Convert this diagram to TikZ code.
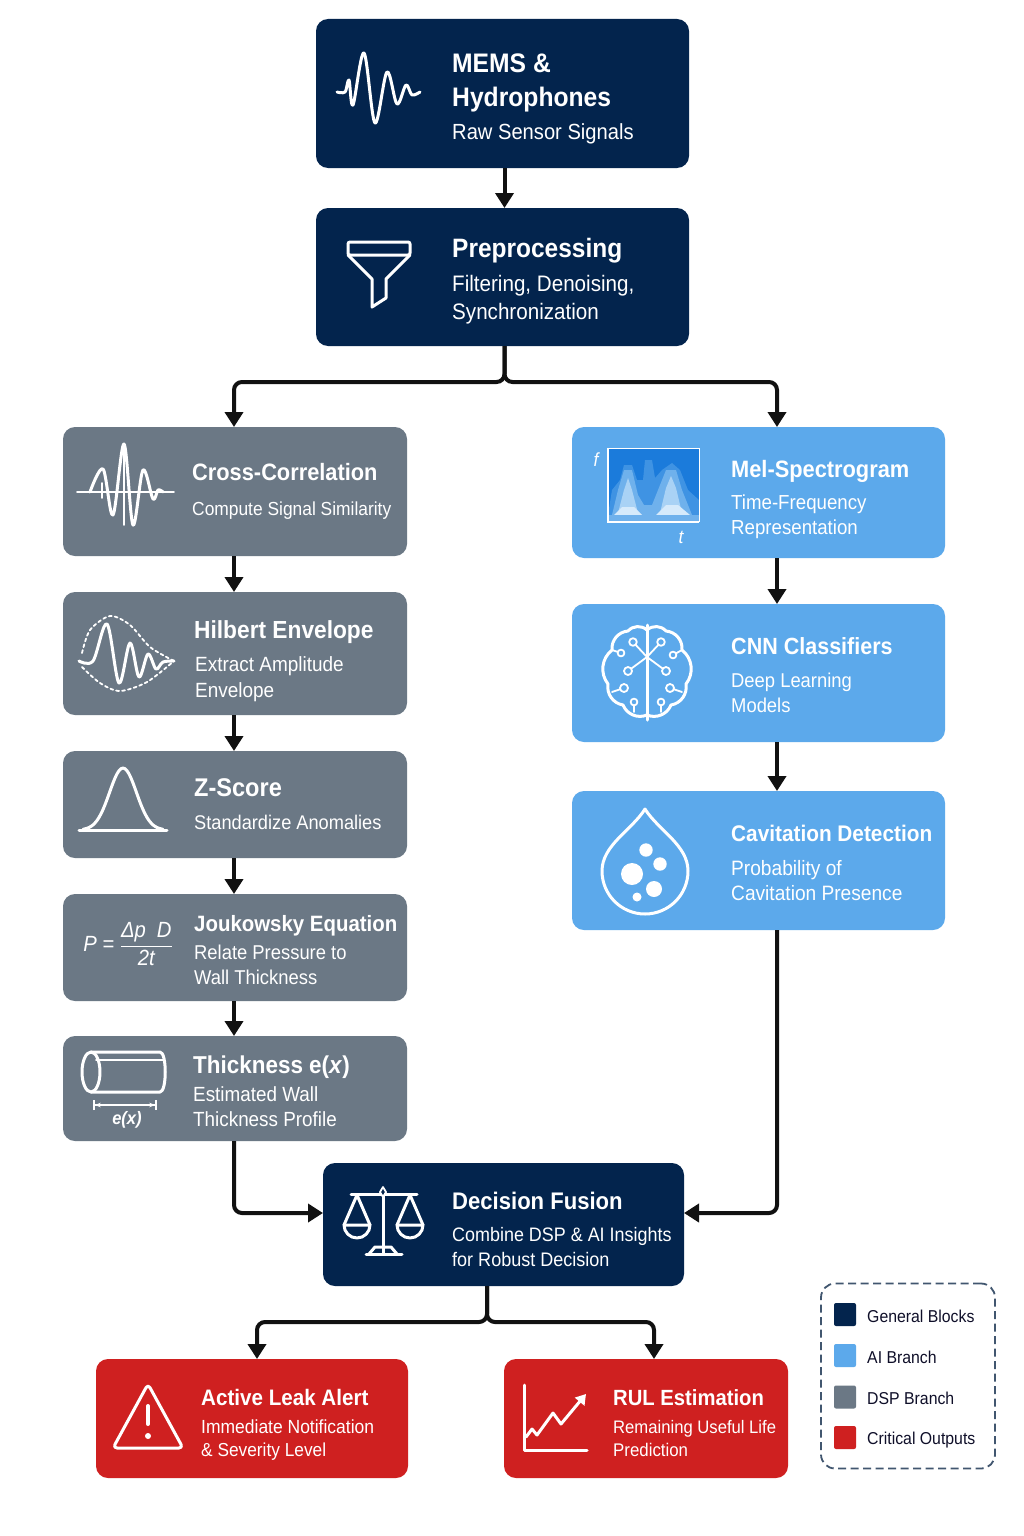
\documentclass[tikz,border=0pt]{standalone}
\usepackage{amsmath}
\usepackage{fontspec}
\setmainfont[FakeStretch=0.92]{Liberation Sans}
\usetikzlibrary{arrows.meta}
\usetikzlibrary{positioning}
\definecolor{generalcol}{HTML}{03244D}
\definecolor{aicol}{HTML}{5CA9EB}
\definecolor{dspcol}{HTML}{6B7885}
\definecolor{critcol}{HTML}{CF2020}
\definecolor{inkcol}{HTML}{111111}
\definecolor{specdeep}{HTML}{1B7BDB}
\definecolor{specmid}{HTML}{3F93E3}
\definecolor{specsoft}{HTML}{6FB1EC}
\definecolor{speclight}{HTML}{A9D2F5}
\definecolor{specpale}{HTML}{D6EAFB}
\tikzset{
	block/.style = {rectangle, rounded corners=12pt, inner sep=0pt, outer sep=0pt},
	generalblock/.style = {block, fill=generalcol},
	aiblock/.style = {block, fill=aicol, minimum width=373pt},
	dspblock/.style = {block, fill=dspcol, minimum width=344pt},
	critblock/.style = {block, fill=critcol, minimum height=119pt},
	head/.style = {anchor=base west, inner sep=0pt, text=white, font=\bfseries\fontsize{#1}{#1}\selectfont},
	head/.default = 24,
	subline/.style = {anchor=base west, inner sep=0pt, text=white, font=\fontsize{#1}{#1}\selectfont},
	subline/.default = 20,
	flow/.style = {draw=inkcol, line width=4pt, rounded corners=8pt, -{Triangle[length=15pt,width=18pt]}},
	icon/.style = {draw=white, line width=3pt, line cap=round, line join=round},
	fineicon/.style = {draw=white, line width=1.8pt, line cap=round, line join=round},
	swatch/.style = {rectangle, rounded corners=2pt, minimum width=22pt, minimum height=23pt, inner sep=0pt},
	keytext/.style = {anchor=base west, inner sep=0pt, text=inkcol!90!blue, font=\fontsize{17.2}{17.2}\selectfont}
}
\begin{document}
\begin{tikzpicture}[x=1pt,y=1pt]
	\useasboundingbox (0,0) rectangle (1024,-1536);
	\fill[white] (0,0) rectangle (1024,-1536);

	\node (mems) [generalblock, minimum width=373pt, minimum height=149pt] at (502.5,-93.5) {};
	\node (prep) [generalblock, minimum width=373pt, minimum height=138pt, below=40pt of mems] {};
	\node (cross) [dspblock, minimum height=129pt] at (235,-491.5) {};
	\node (hilbert) [dspblock, minimum height=123pt, below=36pt of cross] {};
	\node (zscore) [dspblock, minimum height=107pt, below=36pt of hilbert] {};
	\node (jouk) [dspblock, minimum height=107pt, below=36pt of zscore] {};
	\node (thick) [dspblock, minimum height=105pt, below=35pt of jouk] {};
	\node (mel) [aiblock, minimum height=131pt] at (758.5,-492.5) {};
	\node (cnn) [aiblock, minimum height=138pt, below=46pt of mel] {};
	\node (cav) [aiblock, minimum height=139pt, below=49pt of cnn] {};
	\node (fusion) [generalblock, minimum width=361pt, minimum height=123pt] at (503.5,-1224.5) {};
	\node (leak) [critblock, minimum width=312pt] at (252,-1418.5) {};
	\node (rul) [critblock, minimum width=284pt] at (646,-1418.5) {};

	\draw[flow] ([xshift=2pt]mems.south) -- ([xshift=2pt]prep.north);
	\draw[flow] ([xshift=2pt]prep.south) -- ++(0,-36) -| ([xshift=-1pt]cross.north);
	\draw[flow] ([xshift=2pt]prep.south) -- ++(0,-36) -| ([xshift=18.5pt]mel.north);
	\draw[flow] ([xshift=-1pt]cross.south) -- ([xshift=-1pt]hilbert.north);
	\draw[flow] ([xshift=-1pt]hilbert.south) -- ([xshift=-1pt]zscore.north);
	\draw[flow] ([xshift=-1pt]zscore.south) -- ([xshift=-1pt]jouk.north);
	\draw[flow] ([xshift=-1pt]jouk.south) -- ([xshift=-1pt]thick.north);
	\draw[flow] ([xshift=18.5pt]mel.south) -- ([xshift=18.5pt]cnn.north);
	\draw[flow] ([xshift=18.5pt]cnn.south) -- ([xshift=18.5pt]cav.north);
	\draw[flow] ([xshift=-1pt]thick.south) |- ([yshift=11.5pt]fusion.west);
	\draw[flow] ([xshift=18.5pt]cav.south) |- ([yshift=11.5pt]fusion.east);
	\draw[flow] ([xshift=-16.5pt]fusion.south) -- ++(0,-36) -| ([xshift=5pt]leak.north);
	\draw[flow] ([xshift=-16.5pt]fusion.south) -- ++(0,-36) -| ([xshift=8pt]rul.north);

	\node (memsa) [head=26.8] at (452,-73) {MEMS \&};
	\node (memsb) [head=26.8] at (452,-107) {Hydrophones};
	\node (memsc) [subline=21.9] at (452,-139.5) {Raw Sensor Signals};
	\node (prepa) [head=26.6] at (452,-257) {Preprocessing};
	\node (prepb) [subline=22.4] at (452,-291) {Filtering, Denoising,};
	\node (prepc) [subline=22.4] at (452,-319) {Synchronization};
	\node (crossa) [head=23.7] at (192,-480) {Cross-Correlation};
	\node (crossb) [subline=18.9] at (192,-515) {Compute Signal Similarity};
	\node (hilberta) [head=24.7] at (194,-638) {Hilbert Envelope};
	\node (hilbertb) [subline=20.6] at (195,-671) {Extract Amplitude};
	\node (hilbertc) [subline=20.6] at (195,-697) {Envelope};
	\node (zscorea) [head=25.6] at (194,-796) {Z-Score};
	\node (zscoreb) [subline=19.8] at (194,-829) {Standardize Anomalies};
	\node (jouka) [head=22.2] at (194,-931) {Joukowsky Equation};
	\node (joukb) [subline=20] at (194,-959) {Relate Pressure to};
	\node (joukc) [subline=20] at (194,-984) {Wall Thickness};
	\node (thicka) [head=24.4] at (193,-1073) {Thickness e(\textit{x})};
	\node (thickb) [subline=20.5] at (193,-1101) {Estimated Wall};
	\node (thickc) [subline=20.5] at (193,-1126) {Thickness Profile};
	\node (mela) [head=23.7] at (731,-477) {Mel-Spectrogram};
	\node (melb) [subline=20.3] at (731,-509) {Time-Frequency};
	\node (melc) [subline=20.3] at (731,-534) {Representation};
	\node (cnna) [head=23.4] at (731,-654) {CNN Classifiers};
	\node (cnnb) [subline=20] at (731,-687) {Deep Learning};
	\node (cnnc) [subline=20] at (731,-712) {Models};
	\node (cava) [head=22.6] at (731,-841) {Cavitation Detection};
	\node (cavb) [subline=20.8] at (731,-875) {Probability of};
	\node (cavc) [subline=20.8] at (731,-900) {Cavitation Presence};
	\node (fusiona) [head=24] at (452,-1209) {Decision Fusion};
	\node (fusionb) [subline=19.5] at (452,-1241) {Combine DSP \& AI Insights};
	\node (fusionc) [subline=19.6] at (452,-1266) {for Robust Decision};
	\node (leaka) [head=22.4] at (201,-1405) {Active Leak Alert};
	\node (leakb) [subline=19] at (201,-1433) {Immediate Notification};
	\node (leakc) [subline=18.8] at (201,-1456) {\& Severity Level};
	\node (rula) [head=22] at (613,-1405) {RUL Estimation};
	\node (rulb) [subline=18.1] at (613,-1433) {Remaining Useful Life};
	\node (rulc) [subline=18.3] at (613,-1456) {Prediction};

	\draw[icon] plot [smooth, tension=0.55] coordinates {(337,-92) (345,-92) (349,-80) (353,-105) (364,-53) (375,-123) (387,-72) (397,-104) (406,-85) (412,-95) (420,-92)};

	\draw[icon, rounded corners=2pt] (348,-242) rectangle (410,-255);
	\draw[icon] (348,-255) -- (372,-279) -- (372,-307) -- (386,-298) -- (386,-279) -- (410,-255);

	\draw[fineicon] (77,-492) -- (174,-492);
	\draw[fineicon] (124,-444) -- (124,-525);
	\draw[fineicon] (102,-483) -- (102,-498);
	\draw[icon] plot [smooth, tension=0.55] coordinates {(90,-492) (103,-469) (113,-515) (124,-444) (133,-525) (143,-470) (153,-499) (158,-490) (163,-492)};

	\draw[icon] plot [smooth, tension=0.55] coordinates {(79,-661) (93,-661) (107,-624) (119,-683) (130,-643) (139,-677) (148,-654) (156,-669) (163,-662) (174,-661)};
	\draw[fineicon, dashed] plot [smooth] coordinates {(82,-653) (90,-630) (110,-616) (130,-625) (150,-647) (174,-661)};
	\draw[fineicon, dashed] plot [smooth] coordinates {(82,-667) (100,-683) (120,-691) (147,-682) (174,-661)};

	\draw[icon] (79,-830) -- (167,-830);
	\draw[icon] plot [smooth, domain=83:163, samples=41] (\x,{-830+62*exp(-((\x-123)/19)*((\x-123)/19))});

	\node (eqn) [inner sep=0pt, text=white, font=\fontsize{22}{26}\selectfont] at (128,-944) {\textit{P =} $\genfrac{}{}{1.2pt}{0}{\textit{Δp\enspace D}}{\textit{2t}}$};

	\draw[icon] (91,-1072) ellipse (9 and 20);
	\draw[icon] (91,-1052) -- (160,-1052) .. controls (167,-1052) and (167,-1092) .. (160,-1092) -- (91,-1092);
	\draw[fineicon] (96,-1060) -- (163,-1060);
	\draw[fineicon, {Bar[width=10pt]Stealth[length=6pt]}-{Stealth[length=6pt]Bar[width=10pt]}] (93,-1105) -- (157,-1105);
	\node (exlabel) [inner sep=0pt, text=white, font=\bfseries\itshape\fontsize{18}{18}\selectfont] at (127,-1120) {e(x)};

	\fill[specdeep] (608,-448) rectangle (699,-522);
	\fill[specmid] (608,-515) -- (612,-490) -- (620,-480) -- (624,-465) -- (632,-465) -- (637,-480) -- (643,-480) -- (645,-460) -- (652,-460) -- (655,-478) -- (662,-470) -- (672,-463) -- (680,-470) -- (688,-490) -- (699,-500) -- (699,-522) -- (608,-522) -- cycle;
	\fill[specsoft] (612,-515) -- (618,-490) -- (624,-470) -- (632,-470) -- (638,-495) -- (644,-505) -- (652,-505) -- (660,-485) -- (666,-470) -- (676,-470) -- (682,-490) -- (692,-515) -- cycle;
	\fill[speclight] (618,-513) -- (624,-490) -- (628,-478) -- (632,-490) -- (638,-513) -- cycle;
	\fill[speclight] (660,-513) -- (666,-488) -- (671,-476) -- (676,-488) -- (682,-513) -- cycle;
	\fill[specpale] (614,-515) -- (622,-507) -- (634,-507) -- (642,-515) -- cycle;
	\fill[specpale] (656,-515) -- (666,-505) -- (678,-505) -- (690,-515) -- cycle;
	\fill[specsoft] (608,-515) rectangle (699,-522);
	\draw[white, line width=0.8pt] (608,-448) -- (699,-448) -- (699,-522);
	\draw[white, line width=2pt] (608,-448) -- (608,-522) -- (699,-522);
	\node (flabel) [inner sep=0pt, text=white, font=\itshape\fontsize{19}{19}\selectfont] at (596,-460) {f};
	\node (tlabel) [inner sep=0pt, text=white, font=\itshape\fontsize{19}{19}\selectfont] at (681,-537) {t};

	\draw[icon] (647,-630) to [bend right=45] (628,-631) to [bend right=45] (612,-650) to [bend right=45] (608,-684) to [bend right=45] (623,-705) to [bend right=45] (647,-715);
	\draw[icon] (647,-630) to [bend left=45] (666,-631) to [bend left=45] (682,-650) to [bend left=45] (686,-684) to [bend left=45] (671,-705) to [bend left=45] (647,-715);
	\draw[icon] (647,-625) -- (647,-720);
	\draw[fineicon] (633,-642) -- (647,-657) -- (628,-671);
	\draw[fineicon] (661,-642) -- (647,-657) -- (666,-671);
	\draw[fineicon] (621,-653) -- (612,-650);
	\draw[fineicon] (673,-655) -- (682,-650);
	\draw[fineicon] (624,-688) -- (612,-692);
	\draw[fineicon] (670,-688) -- (682,-692);
	\draw[fineicon] (634,-702) -- (634,-712);
	\draw[fineicon] (661,-702) -- (661,-712);
	\draw[fineicon, fill=aicol] (633,-642) circle (3.8);
	\draw[fineicon, fill=aicol] (621,-653) circle (3.4);
	\draw[fineicon, fill=aicol] (628,-671) circle (4);
	\draw[fineicon, fill=aicol] (624,-688) circle (4);
	\draw[fineicon, fill=aicol] (634,-702) circle (3.4);
	\draw[fineicon, fill=aicol] (661,-642) circle (3.8);
	\draw[fineicon, fill=aicol] (673,-655) circle (3.4);
	\draw[fineicon, fill=aicol] (666,-671) circle (4);
	\draw[fineicon, fill=aicol] (670,-688) circle (4);
	\draw[fineicon, fill=aicol] (661,-702) circle (3.4);

	\draw[icon] (645,-809) .. controls (632,-830) and (602,-845) .. (602,-871) arc (180:360:43) .. controls (688,-845) and (658,-830) .. cycle;
	\fill[white] (646,-850) circle (6.7);
	\fill[white] (660,-864) circle (6.7);
	\fill[white] (632,-874) circle (11);
	\fill[white] (654,-889) circle (8);
	\fill[white] (637,-897) circle (4.5);

	\draw[icon] (351,-1194) -- (417,-1194);
	\draw[icon] (383,-1194) -- (383,-1254);
	\draw[fineicon, fill=generalcol] (383,-1187) -- (386,-1192) -- (383,-1197) -- (380,-1192) -- cycle;
	\draw[icon] (366,-1254) -- (402,-1254);
	\draw[icon] (369,-1254) -- (375,-1247) -- (391,-1247) -- (397,-1254);
	\draw[icon] (344,-1225) -- (357,-1195) -- (370,-1225);
	\draw[icon] (344,-1225) arc (180:360:13) -- cycle;
	\draw[icon] (397,-1225) -- (410,-1195) -- (423,-1225);
	\draw[icon] (397,-1225) arc (180:360:13) -- cycle;

	\draw[icon, rounded corners=4pt] (148,-1384) -- (183,-1448) -- (113,-1448) -- cycle;
	\draw[icon, line width=4pt] (148,-1406) -- (148,-1424);
	\fill[white] (148,-1436) circle (3);

	\draw[icon] (524,-1385) -- (524,-1450) -- (587,-1450);
	\draw[icon, -{Triangle[length=10pt,width=12pt]}] (526,-1437) -- (532,-1429) -- (537,-1435) -- (553,-1413) -- (561,-1424) -- (586,-1394);

	\node (legend) [draw=dspcol!60!generalcol, line width=1.8pt, dash pattern=on 8pt off 4.5pt, rectangle, rounded corners=14pt, minimum width=174pt, minimum height=185pt, inner sep=0pt] at (908,-1376) {};
	\node (keygeneral) [swatch, fill=generalcol] at (845,-1314.5) {};
	\node (keyai) [swatch, fill=aicol] at (845,-1355.5) {};
	\node (keydsp) [swatch, fill=dspcol] at (845,-1397) {};
	\node (keycrit) [swatch, fill=critcol] at (845,-1437.5) {};
	\node (keygenerala) [keytext] at (867,-1322) {General Blocks};
	\node (keyaia) [keytext] at (867,-1363) {AI Branch};
	\node (keydspa) [keytext] at (867,-1404) {DSP Branch};
	\node (keycrita) [keytext] at (867,-1444) {Critical Outputs};
\end{tikzpicture}
\end{document}
